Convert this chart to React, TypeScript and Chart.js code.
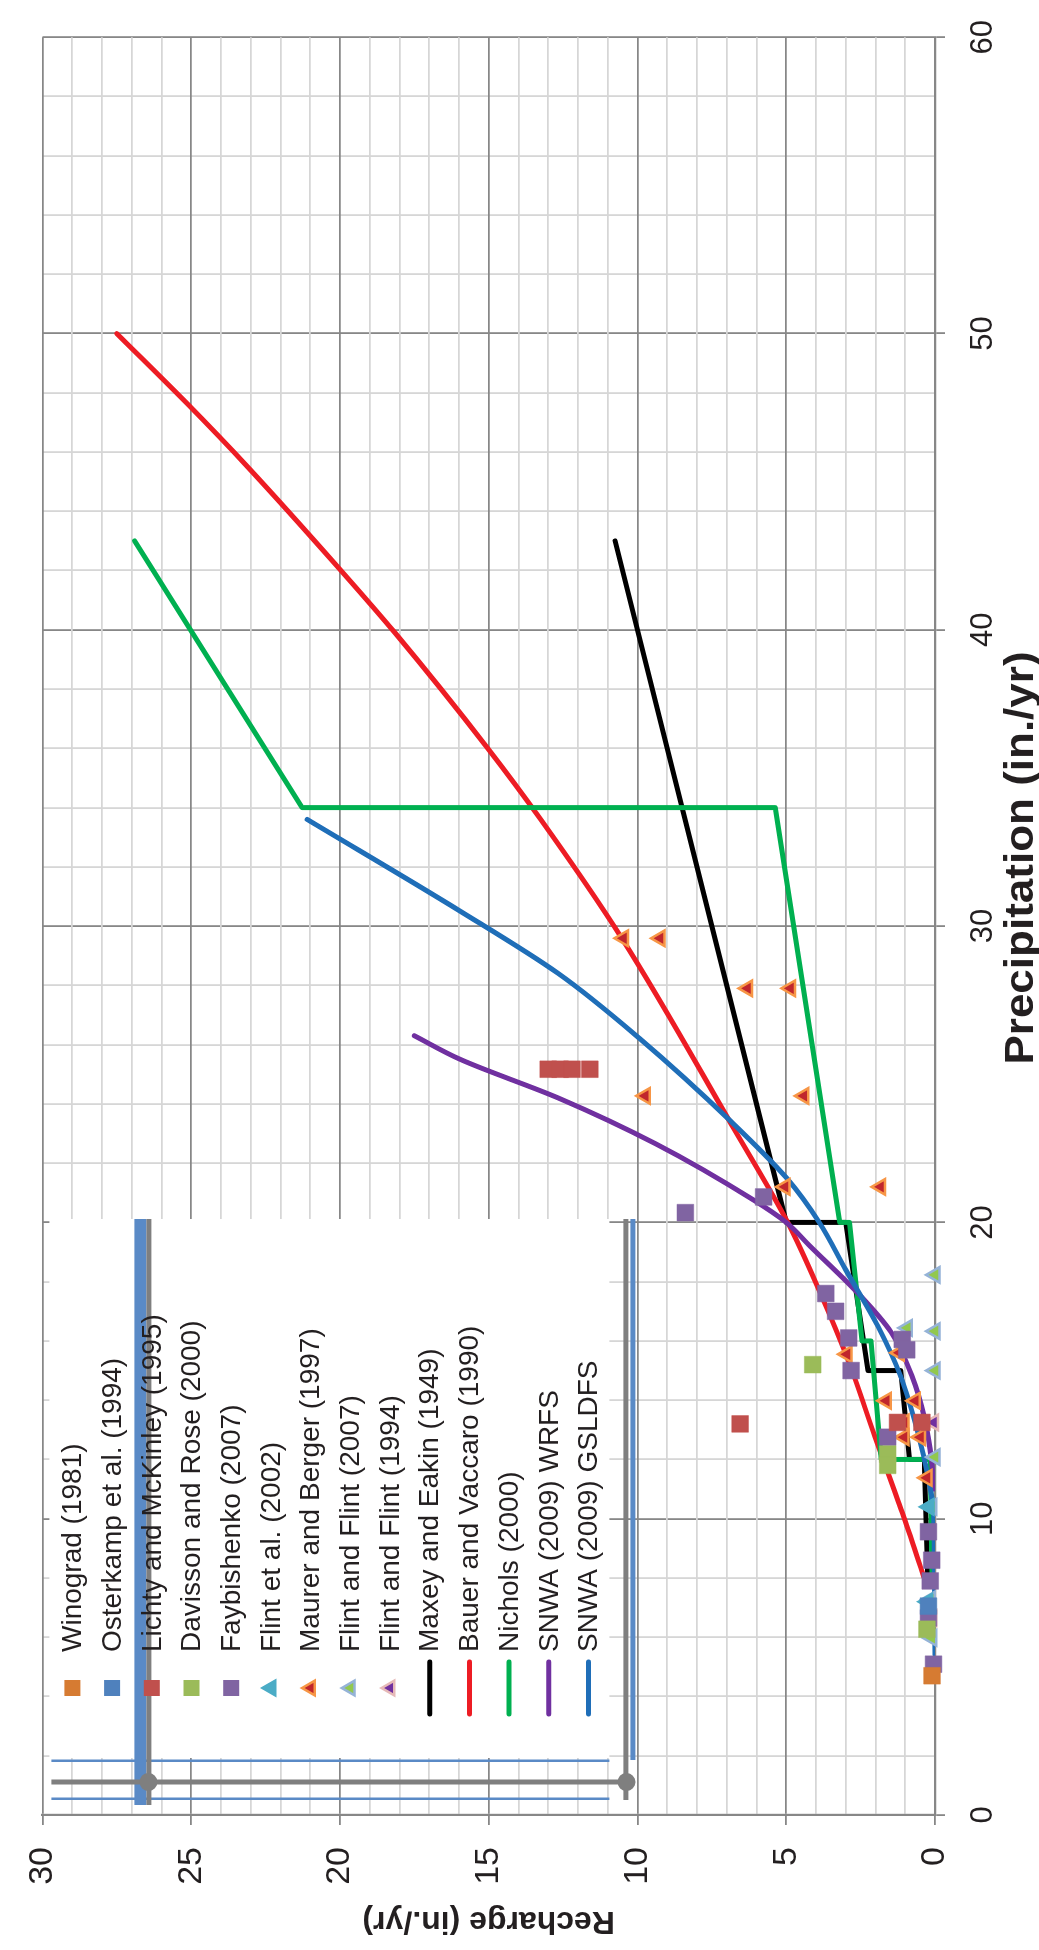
import React, { useEffect, useRef } from 'react';
import { Chart, registerables } from 'chart.js';

Chart.register(...registerables);

// ---------- data (precipitation in./yr -> recharge in./yr) ----------
const xTickValues = [0, 10, 20, 30, 40, 50, 60];
const yTickValues = [0, 5, 10, 15, 20, 25, 30];

const winogradP = [4.7];
const winogradR = [0.1];
const osterkampP = [7.05];
const osterkampR = [0.22];
const lichtyP = [25.17, 25.17, 25.17, 25.17, 13.2, 13.25, 13.25];
const lichtyR = [13.0, 12.6, 12.2, 11.6, 6.55, 1.26, 0.44];
const davissonP = [15.2, 12.18, 11.8, 6.27];
const davissonR = [4.11, 1.59, 1.59, 0.27];
const faybishenkoP = [20.86, 20.33, 17.6, 17.0, 16.1, 15.0, 16.05, 15.7, 12.75, 9.56, 8.6, 7.9, 6.65, 5.09];
const faybishenkoR = [5.76, 8.39, 3.67, 3.34, 2.9, 2.82, 1.1, 0.95, 1.59, 0.22, 0.11, 0.16, 0.22, 0.05];
const flint2002P = [10.4, 7.2];
const flint2002R = [0.2, 0.25];
const maurerP = [29.59, 29.59, 27.9, 27.9, 24.27, 24.27, 21.2, 21.2, 15.55, 15.6, 13.98, 13.98, 13.25, 12.75, 12.75, 11.38];
const maurerR = [10.47, 9.24, 6.3, 4.86, 9.74, 4.41, 5.04, 1.83, 2.96, 1.2, 1.64, 0.66, 1.04, 1.04, 0.49, 0.27];
const flintFlint2007P = [18.23, 16.44, 16.33, 15.0, 12.08, 10.4, 7.27, 5.98];
const flintFlint2007R = [0.0, 0.93, 0.0, 0.0, 0.0, 0.11, 0.16, 0.11];
const flintFlint1994P = [6.65, 13.25];
const flintFlint1994R = [0.11, 0.05];

const maxeyP = [8, 8, 12, 12, 15, 15, 20, 20, 43];
const maxeyR = [0, 0.24, 0.36, 0.86, 1.15, 2.25, 3.0, 5.0, 10.75];
const bauerP = [8.05, 10.2, 12.8, 15.3, 17.7, 20, 23.15, 29.6, 33.6, 36, 39.9, 42.1, 45.5, 47.6, 50];
const bauerR = [0.38, 1.1, 2.03, 2.9, 3.89, 4.95, 6.75, 10.53, 13.25, 15.03, 18.15, 20.05, 23.1, 25.1, 27.5];
const nicholsP = [8, 12, 12, 16, 16, 20, 20, 34, 34, 43];
const nicholsR = [0.1, 0.16, 1.81, 2.15, 2.45, 2.87, 3.2, 5.37, 21.27, 26.9];
const wrfsP = [11.0, 11.9, 13.5, 14.8, 16.3, 17.6, 19.2, 20.0, 20.75, 22.65, 24.2, 25.5, 26.3];
const wrfsR = [0.05, 0.11, 0.38, 0.77, 1.48, 2.58, 4.2, 5.0, 6.09, 9.38, 12.66, 15.95, 17.5];
const gsldfsP = [5.4, 8, 10.2, 11.35, 13, 14.8, 16.5, 18.4, 20, 21.5, 23.4, 26.2, 28.4, 30.5, 33.6];
const gsldfsR = [0, 0.02, 0.05, 0.22, 0.6, 1.15, 1.92, 3.0, 3.89, 4.99, 6.85, 9.92, 12.66, 15.95, 21.1];

const seriesNames = [
  'Winograd (1981)',
  'Osterkamp et al. (1994)',
  'Lichty and McKinley (1995)',
  'Davisson and Rose (2000)',
  'Faybishenko (2007)',
  'Flint et al. (2002)',
  'Maurer and Berger (1997)',
  'Flint and Flint (2007)',
  'Flint and Flint (1994)',
  'Maxey and Eakin (1949)',
  'Bauer and Vaccaro (1990)',
  'Nichols (2000)',
  'SNWA (2009) WRFS',
  'SNWA (2009) GSLDFS',
];

const xTitle = 'Precipitation (in./yr)';
const yTitle = 'Recharge (in./yr)';

// ---------- styling ----------
const FONT = '"Liberation Sans", Arial, Helvetica, sans-serif';
const MAJOR = '#878787';
const MINOR = '#d6d6d6';
const TEXT = '#231f20';
const W = 1950;
const H = 1039;

const pts = (P: number[], R: number[]) => P.map((p, i) => ({ x: p, y: R[i] }));

const square = (label: string, P: number[], R: number[], color: string) => ({
  label,
  data: pts(P, R),
  pointStyle: 'rect',
  pointRadius: 11.8,
  backgroundColor: color,
  borderColor: color,
  borderWidth: 0.5,
  showLine: false,
  clip: false as any,
  order: 0,
});

const tri = (label: string, P: number[], R: number[], fill: string, border: string) => ({
  label,
  data: pts(P, R),
  pointStyle: 'triangle',
  pointRadius: 9,
  backgroundColor: fill,
  borderColor: border,
  borderWidth: 2.5,
  showLine: false,
  clip: false as any,
  order: 0,
});

const line = (label: string, P: number[], R: number[], color: string, order: number, smooth: boolean) => ({
  label,
  data: pts(P, R),
  showLine: true,
  borderColor: color,
  backgroundColor: color,
  borderWidth: 5,
  pointRadius: 0,
  fill: false,
  borderCapStyle: 'round',
  borderJoinStyle: 'round',
  cubicInterpolationMode: smooth ? 'monotone' : 'default',
  order,
});

const datasets: any[] = [
  square(seriesNames[0], winogradP, winogradR, '#D67B32'),
  square(seriesNames[1], osterkampP, osterkampR, '#4F81BD'),
  square(seriesNames[2], lichtyP, lichtyR, '#C0504D'),
  square(seriesNames[3], davissonP, davissonR, '#9BBB59'),
  square(seriesNames[4], faybishenkoP, faybishenkoR, '#8064A2'),
  tri(seriesNames[5], flint2002P, flint2002R, '#4BACC6', '#4BACC6'),
  tri(seriesNames[6], maurerP, maurerR, '#C0262D', '#F79646'),
  tri(seriesNames[7], flintFlint2007P, flintFlint2007R, '#92C84E', '#95B3D7'),
  tri(seriesNames[8], flintFlint1994P, flintFlint1994R, '#7030A0', '#E6B9B8'),
  line(seriesNames[9], maxeyP, maxeyR, '#000000', 5, false),
  line(seriesNames[10], bauerP, bauerR, '#ED1C24', 4, true),
  line(seriesNames[11], nicholsP, nicholsR, '#00B050', 3, false),
  line(seriesNames[12], wrfsP, wrfsR, '#7030A0', 2, true),
  line(seriesNames[13], gsldfsP, gsldfsR, '#1F6EB8', 1, true),
];

// inset legend drawn inside the plot area (top-left in unrotated canvas)
const insetLegend = {
  id: 'insetLegend',
  afterDatasetsDraw(chart: any) {
    const ctx: CanvasRenderingContext2D = chart.ctx;
    const ca = chart.chartArea;
    const L = ca.left;
    const T = ca.top;
    ctx.save();
    ctx.fillStyle = '#ffffff';
    ctx.fillRect(L + 57, T + 7, 539, 560);

    // frame decorations
    ctx.fillStyle = '#5A8AC6';
    ctx.fillRect(L + 10, T + 92, 586, 12);
    ctx.fillRect(L + 15, T + 9, 2.5, 558);
    ctx.fillRect(L + 53, T + 9, 2.5, 558);
    ctx.fillRect(L + 55, T + 588, 541, 5);
    ctx.fillStyle = '#7F7F7F';
    ctx.fillRect(L + 10, T + 104, 586, 5);
    ctx.fillRect(L + 30.5, T + 9, 5, 583);
    ctx.fillRect(L + 15, T + 581, 581, 5);
    ctx.beginPath();
    ctx.arc(L + 33, T + 106, 9, 0, Math.PI * 2);
    ctx.arc(L + 33, T + 584, 9, 0, Math.PI * 2);
    ctx.fill();

    // entries
    const mx = L + 127;
    ctx.font = `28px ${FONT}`;
    ctx.textAlign = 'left';
    ctx.textBaseline = 'middle';
    chart.data.datasets.forEach((ds: any, i: number) => {
      const y = T + 30 + 39.7 * i;
      if (ds.showLine) {
        ctx.strokeStyle = ds.borderColor;
        ctx.lineWidth = 5;
        ctx.lineCap = 'round';
        ctx.beginPath();
        ctx.moveTo(mx - 26, y);
        ctx.lineTo(mx + 26, y);
        ctx.stroke();
      } else if (ds.pointStyle === 'rect') {
        ctx.fillStyle = ds.backgroundColor;
        ctx.fillRect(mx - 8, y - 8, 16, 16);
      } else {
        const r = 8.5;
        ctx.beginPath();
        ctx.moveTo(mx, y - r);
        ctx.lineTo(mx + r * Math.sin((2 * Math.PI) / 3), y - r * Math.cos((2 * Math.PI) / 3));
        ctx.lineTo(mx + r * Math.sin((4 * Math.PI) / 3), y - r * Math.cos((4 * Math.PI) / 3));
        ctx.closePath();
        ctx.fillStyle = ds.backgroundColor;
        ctx.fill();
        ctx.strokeStyle = ds.borderColor;
        ctx.lineWidth = 2.5;
        ctx.stroke();
      }
      ctx.fillStyle = TEXT;
      ctx.fillText(ds.label, mx + 36, y + 1);
    });
    ctx.restore();
  },
};

// x-axis title placed like the reference
const xTitlePlugin = {
  id: 'xTitlePlugin',
  afterDraw(chart: any) {
    const ctx: CanvasRenderingContext2D = chart.ctx;
    ctx.save();
    ctx.font = `bold 40px ${FONT}`;
    ctx.fillStyle = TEXT;
    ctx.textAlign = 'center';
    ctx.textBaseline = 'middle';
    ctx.translate(W - 858, H - 17);
    ctx.scale(1.1, 1);
    ctx.fillText(xTitle, 0, 0);
    ctx.restore();
  },
};

const majorX = (v: number) => xTickValues.includes(v);
const majorY = (v: number) => yTickValues.includes(v);

export default function App() {
  const ref = useRef<HTMLCanvasElement>(null);
  useEffect(() => {
    const chart = new Chart(ref.current as HTMLCanvasElement, {
      type: 'scatter',
      data: { datasets },
      options: {
        animation: false,
        responsive: false,
        devicePixelRatio: 1,
        events: [],
        layout: { padding: { top: 23, right: 26, left: 0, bottom: 0 } },
        plugins: { legend: { display: false }, tooltip: { enabled: false } },
        scales: {
          x: {
            type: 'linear',
            min: 0,
            max: 60,
            afterFit: (s: any) => {
              s.height = 104;
            },
            ticks: {
              stepSize: 2,
              autoSkip: false,
              maxRotation: 0,
              minRotation: 0,
              padding: 20,
              color: TEXT,
              font: { family: FONT, size: 31 },
              callback: (v: any) => (majorX(Number(v)) ? String(v) : ''),
            },
            grid: {
              color: (c: any) => (c.tick && majorX(c.tick.value) ? MAJOR : MINOR),
              lineWidth: 1.8,
              tickLength: 10,
              tickColor: (c: any) => (c.tick && majorX(c.tick.value) ? MAJOR : 'rgba(0,0,0,0)'),
            },
            border: { color: MAJOR, width: 2.2 },
          },
          y: {
            type: 'linear',
            min: 0,
            max: 30,
            afterFit: (s: any) => {
              s.width = 135;
            },
            ticks: {
              stepSize: 1,
              autoSkip: false,
              padding: 22,
              color: TEXT,
              font: { family: FONT, size: 34 },
              callback: (v: any) => (majorY(Number(v)) ? String(v) : ''),
            },
            grid: {
              color: (c: any) => (c.tick && majorY(c.tick.value) ? MAJOR : MINOR),
              lineWidth: 1.8,
              tickLength: 10,
              tickColor: (c: any) => (c.tick && majorY(c.tick.value) ? MAJOR : 'rgba(0,0,0,0)'),
            },
            border: { color: MAJOR, width: 2.2 },
            title: {
              display: true,
              text: yTitle,
              color: TEXT,
              font: { family: FONT, size: 32, weight: 'bold', lineHeight: 1 },
              padding: { top: 13, bottom: 0 },
            },
          },
        },
      } as any,
      plugins: [insetLegend, xTitlePlugin],
    });
    return () => chart.destroy();
  }, []);

  return (
    <div
      style={{
        position: 'absolute',
        left: 0,
        top: 0,
        width: 1039,
        height: 1950,
        overflow: 'hidden',
        background: '#ffffff',
      }}
    >
      <canvas
        ref={ref}
        width={W}
        height={H}
        style={{
          position: 'absolute',
          left: 0,
          top: 0,
          width: W,
          height: H,
          transformOrigin: '0 0',
          transform: `translate(0px, ${W}px) rotate(-90deg)`,
        }}
      />
    </div>
  );
}
